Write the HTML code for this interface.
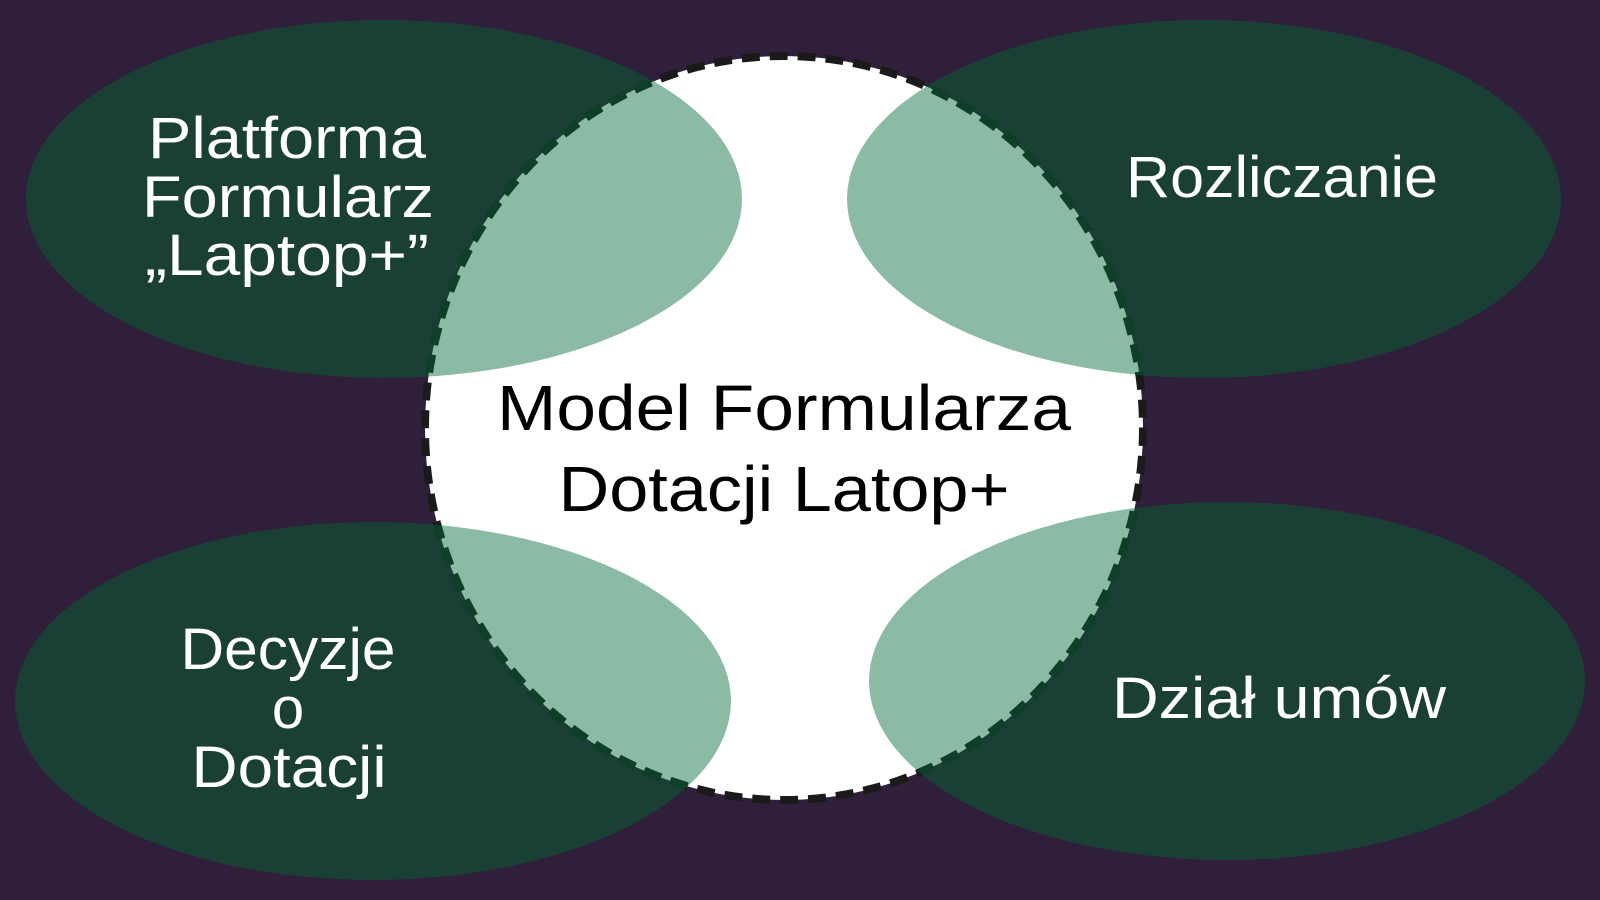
<!DOCTYPE html>
<html><head><meta charset="utf-8"><style>
html,body{margin:0;padding:0;background:#2f1f3a;}
svg{display:block}
text{font-family:"Liberation Sans",sans-serif;}
</style></head><body>
<svg width="1600" height="900" viewBox="0 0 1600 900" xmlns="http://www.w3.org/2000/svg">
<defs>
<clipPath id="c"><ellipse cx="784" cy="428" rx="359" ry="372"/></clipPath>
<clipPath id="e">
<ellipse cx="384" cy="199" rx="358" ry="179"/>
<ellipse cx="1204" cy="199" rx="357" ry="179"/>
<ellipse cx="373" cy="701" rx="358" ry="179"/>
<ellipse cx="1227" cy="681" rx="358" ry="179"/>
</clipPath>
</defs>
<rect width="1600" height="900" fill="#2f1f3a"/>
<g fill="#1a4036">
<ellipse cx="384" cy="199" rx="358" ry="179"/>
<ellipse cx="1204" cy="199" rx="357" ry="179"/>
<ellipse cx="373" cy="701" rx="358" ry="179"/>
<ellipse cx="1227" cy="681" rx="358" ry="179"/>
</g>
<ellipse cx="784" cy="428" rx="359" ry="372" fill="#ffffff"/>
<g fill="#8bbba5" clip-path="url(#c)">
<ellipse cx="384" cy="199" rx="358" ry="179"/>
<ellipse cx="1204" cy="199" rx="357" ry="179"/>
<ellipse cx="373" cy="701" rx="358" ry="179"/>
<ellipse cx="1227" cy="681" rx="358" ry="179"/>
</g>
<ellipse cx="784" cy="428" rx="359" ry="372" fill="none" stroke="#1a1a1a" stroke-width="8" stroke-dasharray="18 10"/>
<ellipse cx="784" cy="428" rx="359" ry="372" fill="none" stroke="#0e3f28" stroke-width="8" stroke-dasharray="18 10" clip-path="url(#e)"/>
<g fill="#ffffff" font-size="58" text-anchor="middle">
<text x="287" y="158" textLength="278" lengthAdjust="spacingAndGlyphs">Platforma</text>
<text x="288" y="217" textLength="292" lengthAdjust="spacingAndGlyphs">Formularz</text>
<text x="287" y="275" textLength="284" lengthAdjust="spacingAndGlyphs">„Laptop+”</text>
<text x="1282" y="197" textLength="312" lengthAdjust="spacingAndGlyphs">Rozliczanie</text>
<text x="288" y="669" textLength="215" lengthAdjust="spacingAndGlyphs">Decyzje</text>
<text x="288" y="728">o</text>
<text x="289" y="787" textLength="195" lengthAdjust="spacingAndGlyphs">Dotacji</text>
<text x="1279" y="718" textLength="334" lengthAdjust="spacingAndGlyphs">Dział umów</text>
</g>
<g fill="#000000" font-size="64" text-anchor="middle">
<text x="784" y="430" textLength="574" lengthAdjust="spacingAndGlyphs">Model Formularza</text>
<text x="784" y="511" textLength="451" lengthAdjust="spacingAndGlyphs">Dotacji Latop+</text>
</g>
</svg>
</body></html>
